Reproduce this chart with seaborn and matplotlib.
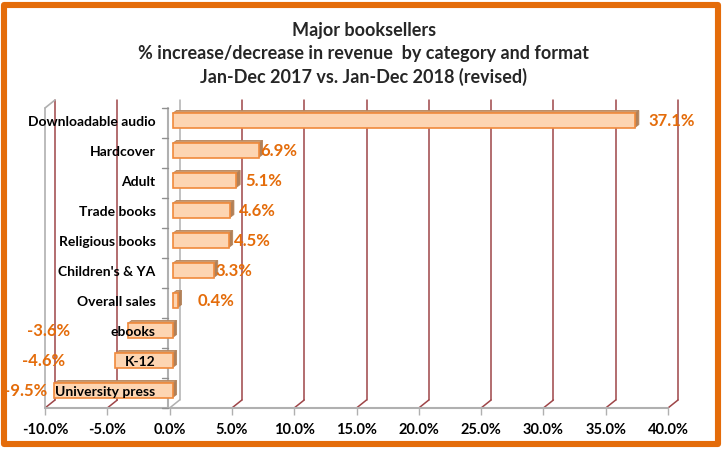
import numpy as np
import pandas as pd
import seaborn as sns
import matplotlib.pyplot as plt
from matplotlib.patches import Polygon, Rectangle
from matplotlib.transforms import ScaledTranslation

# data
categories = ["Downloadable audio", "Hardcover", "Adult", "Trade books", "Religious books",
              "Children's & YA", "Overall sales", "ebooks", "K-12", "University press"]
change_pct = [37.1, 6.9, 5.1, 4.6, 4.5, 3.3, 0.4, -3.6, -4.6, -9.5]
xticks = [-10, -5, 0, 5, 10, 15, 20, 25, 30, 35, 40]

# label nudges (data units) to mimic Excel's label placement
label_nudge = [1.3, 0.4, 1.0, 1.0, 0.65, 0.4, 1.85, -4.35, -3.75, -0.35]

df = pd.DataFrame({"category": categories, "change": change_pct})

sns.set_theme(style="white")
plt.rcParams["font.family"] = ["Lato", "DejaVu Sans"]

W, H = 728, 450
fig = plt.figure(figsize=(W / 100, H / 100), dpi=100)
# front axis: -10% at x=45px, 40% at x=668px; categories from y=108 to 408px
ax = fig.add_axes([45 / W, 1 - 408 / H, (668 - 45) / W, 300 / H])

orange = "#E46C0A"
face = "#FDD5B2"
edge = "#F08A3C"
top_col = "#CC9A6E"
side_col = "#B08058"
depth_edge = "#B5845C"
grid_red = "#9E4548"
axis_gray = "#B0B0B0"

sns.barplot(data=df, x="change", y="category", orient="h", color=face,
            edgecolor=edge, linewidth=1.2, width=0.47, saturation=1, ax=ax)

ax.set_xlim(-10, 40)
ax.set_ylim(len(categories) - 0.5, -0.5)
for s in ax.spines.values():
    s.set_visible(False)
ax.set_xlabel("")
ax.set_ylabel("")
ax.set_yticks([])
ax.set_xticks(xticks)
ax.set_xticklabels([f"{t:.1f}%" for t in xticks], fontsize=10.5, fontweight="bold", color="black")
ax.tick_params(axis="x", length=5, width=1, color=axis_gray, pad=6, direction="out", bottom=True)
ax.grid(False)

# pixel -> data conversions
px_x = 50 / (668 - 45)          # data units per pixel in x
px_y = len(categories) / 300.0  # category units per pixel in y
n = len(categories)
ybot, ytop = n - 0.5, -0.5

# back wall depth offset (10px right, 8px up)
dx_w, dy_w = 10 * px_x, 8 * px_y
for t in xticks:
    col = axis_gray if t == 0 else grid_red
    ax.plot([t + dx_w, t + dx_w], [ytop - dy_w, ybot - dy_w], color=col, lw=1.1, clip_on=False, zorder=0)
    ax.plot([t, t + dx_w], [ybot, ybot - dy_w], color=col, lw=1.1, clip_on=False, zorder=0)
# left wall front edge
ax.plot([-10, -10], [ybot, ytop], color=axis_gray, lw=1.2, clip_on=False, zorder=0)
ax.plot([-10, -10 + dx_w], [ytop, ytop - dy_w], color=axis_gray, lw=1.2, clip_on=False, zorder=0)
# front x-axis line
ax.plot([-10, 40], [ybot, ybot], color=axis_gray, lw=1.5, clip_on=False, zorder=1)
# vertical category axis at zero with boundary ticks
ax.plot([-0.15, -0.15], [ybot, ytop], color=axis_gray, lw=1.5, clip_on=False, zorder=1)
for b in np.arange(n + 1) - 0.5:
    ax.plot([-0.15 - 6 * px_x, -0.15], [b, b], color="#909090", lw=1, clip_on=False, zorder=1)

# shift bars slightly into depth and add 3D top/side faces
shift = ScaledTranslation(3 / 100, 2.5 / 100, fig.dpi_scale_trans)
dx_b, dy_b = 4 * px_x, 3 * px_y
for p in ax.patches[:n]:
    x0 = min(p.get_x(), p.get_x() + p.get_width())
    x1 = max(p.get_x(), p.get_x() + p.get_width())
    y0 = p.get_y()
    y1 = y0 + p.get_height()
    p.set_transform(ax.transData + shift)
    p.set_zorder(3)
    topf = Polygon([(x0, y0), (x1, y0), (x1 + dx_b, y0 - dy_b), (x0 + dx_b, y0 - dy_b)],
                   closed=True, facecolor=top_col, edgecolor=depth_edge, lw=0.6,
                   transform=ax.transData + shift, zorder=2)
    sidef = Polygon([(x1, y0), (x1 + dx_b, y0 - dy_b), (x1 + dx_b, y1 - dy_b), (x1, y1)],
                    closed=True, facecolor=side_col, edgecolor=depth_edge, lw=0.6,
                    transform=ax.transData + shift, zorder=2)
    ax.add_patch(topf)
    ax.add_patch(sidef)

# category labels and value labels
for i, (cat, v) in enumerate(zip(categories, change_pct)):
    ax.text(0, i - 0.05, cat, ha="right", va="center", fontsize=10, fontweight="bold",
            color="black", transform=ax.transData + ScaledTranslation(-14 / 100, 0, fig.dpi_scale_trans),
            zorder=5)
    ha = "left" if v >= 0 else "right"
    ax.text(v + label_nudge[i], i - 0.08, f"{v:.1f}%", ha=ha, va="center", fontsize=12,
            fontweight="bold", color=orange, zorder=5, clip_on=False)

fig.text(364 / W, 1 - 54 / H,
         "Major booksellers\n% increase/decrease in revenue  by category and format\nJan-Dec 2017 vs. Jan-Dec 2018 (revised)",
         ha="center", va="center", fontsize=13, fontweight="bold", linespacing=1.4)

# orange chart border
fig.patches.append(Rectangle((4 / W, 1 - 444 / H), 714 / W, 439 / H, transform=fig.transFigure,
                             fill=False, edgecolor=orange, lw=4.4, joinstyle="round", zorder=0))

fig.savefig("out.png", dpi=100)
